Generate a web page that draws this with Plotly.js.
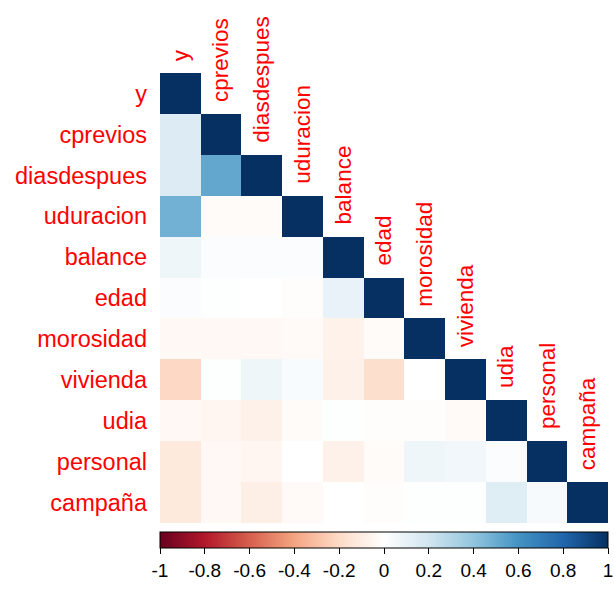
<!DOCTYPE html>
<html>
<head>
<meta charset="utf-8">
<script src="https://cdn.plot.ly/plotly-3.0.1.min.js"></script>
<style>body{margin:0;padding:0;background:#fff;} #chart{width:614px;height:590px;}</style>
</head>
<body>
<div id="chart"></div>
<script>
// Variable names (same order for rows and columns)
const names = ["y","cprevios","diasdespues","uduracion","balance","edad","morosidad","vivienda","udia","personal","campaña"];

// Lower-triangle correlations, one array per row (columns before the diagonal)
const r_y           = [];
const r_cprevios    = [0.15];
const r_diasdespues = [0.15, 0.52];
const r_uduracion   = [0.48, -0.02, -0.02];
const r_balance     = [0.07, 0.02, 0.02, 0.02];
const r_edad        = [0.02, 0.01, 0.00, -0.01, 0.10];
const r_morosidad   = [-0.04, -0.04, -0.04, -0.03, -0.07, -0.02];
const r_vivienda    = [-0.21, 0.01, 0.07, 0.03, -0.08, -0.18, 0.00];
const r_udia        = [-0.04, -0.05, -0.08, -0.02, 0.01, -0.01, -0.01, -0.03];
const r_personal    = [-0.12, -0.04, -0.05, 0.00, -0.08, -0.02, 0.07, 0.06, 0.02];
const r_campana     = [-0.12, -0.04, -0.09, -0.03, 0.00, -0.01, 0.01, 0.01, 0.14, 0.04];

// Colorbar tick labels
const cbTickVals = [-1, -0.8, -0.6, -0.4, -0.2, 0, 0.2, 0.4, 0.6, 0.8, 1];
const cbTickText = ["-1", "-0.8", "-0.6", "-0.4", "-0.2", "0", "0.2", "0.4", "0.6", "0.8", "1"];

const rows = [r_y, r_cprevios, r_diasdespues, r_uduracion, r_balance, r_edad,
              r_morosidad, r_vivienda, r_udia, r_personal, r_campana];
const n = names.length;
const idx = names.map((_, i) => i);
const z = rows.map((r, i) => idx.map(j => j < i ? r[j] : (j === i ? 1 : null)));

const rdbu = ["#67001F","#B2182B","#D6604D","#F4A582","#FDDBC7","#FFFFFF",
              "#D1E5F0","#92C5DE","#4393C3","#2166AC","#053061"];
const colorscale = rdbu.map((c, k) => [k / (rdbu.length - 1), c]);

const rowFont = {family: "Liberation Sans, Arial, sans-serif", size: 23.5, color: "#FF0000"};
const colFont = {family: "Liberation Sans, Arial, sans-serif", size: 22.5, color: "#FF0000"};

const trace = {
  type: "heatmap",
  x: idx, y: idx, z: z,
  zmin: -1, zmax: 1,
  colorscale: colorscale,
  hoverongaps: false,
  colorbar: {
    orientation: "h",
    x: 0.5, xanchor: "center",
    y: -0.019, yanchor: "top",
    len: 1, lenmode: "fraction",
    thickness: 16,
    xpad: 0, ypad: 0,
    outlinewidth: 1, outlinecolor: "#000",
    ticks: "outside", ticklen: 6, tickcolor: "#000",
    tickvals: cbTickVals, ticktext: cbTickText,
    ticklabeloverflow: "allow",
    tickfont: {family: "Liberation Sans, Arial, sans-serif", size: 19, color: "#000"}
  }
};

const annotations = idx.map(j => ({
  x: j, y: j - 0.5, xref: "x", yref: "y",
  text: names[j], showarrow: false,
  textangle: -90, xanchor: "center", yanchor: "bottom",
  yshift: 10,
  font: colFont
}));

const layout = {
  width: 614, height: 590,
  margin: {l: 160, r: 6, t: 73, b: 67, pad: 0},
  paper_bgcolor: "#fff", plot_bgcolor: "#fff",
  showlegend: false,
  xaxis: {range: [-0.5, n - 0.5], showticklabels: false, showgrid: false, zeroline: false, showline: false, ticks: ""},
  yaxis: {range: [n - 0.5, -0.5], tickvals: idx, ticktext: names, tickfont: rowFont,
          showgrid: false, zeroline: false, showline: false, ticks: "", ticklabelstandoff: 12},
  annotations: annotations
};

Plotly.newPlot("chart", [trace], layout, {displayModeBar: false, staticPlot: true});
</script>
</body>
</html>
